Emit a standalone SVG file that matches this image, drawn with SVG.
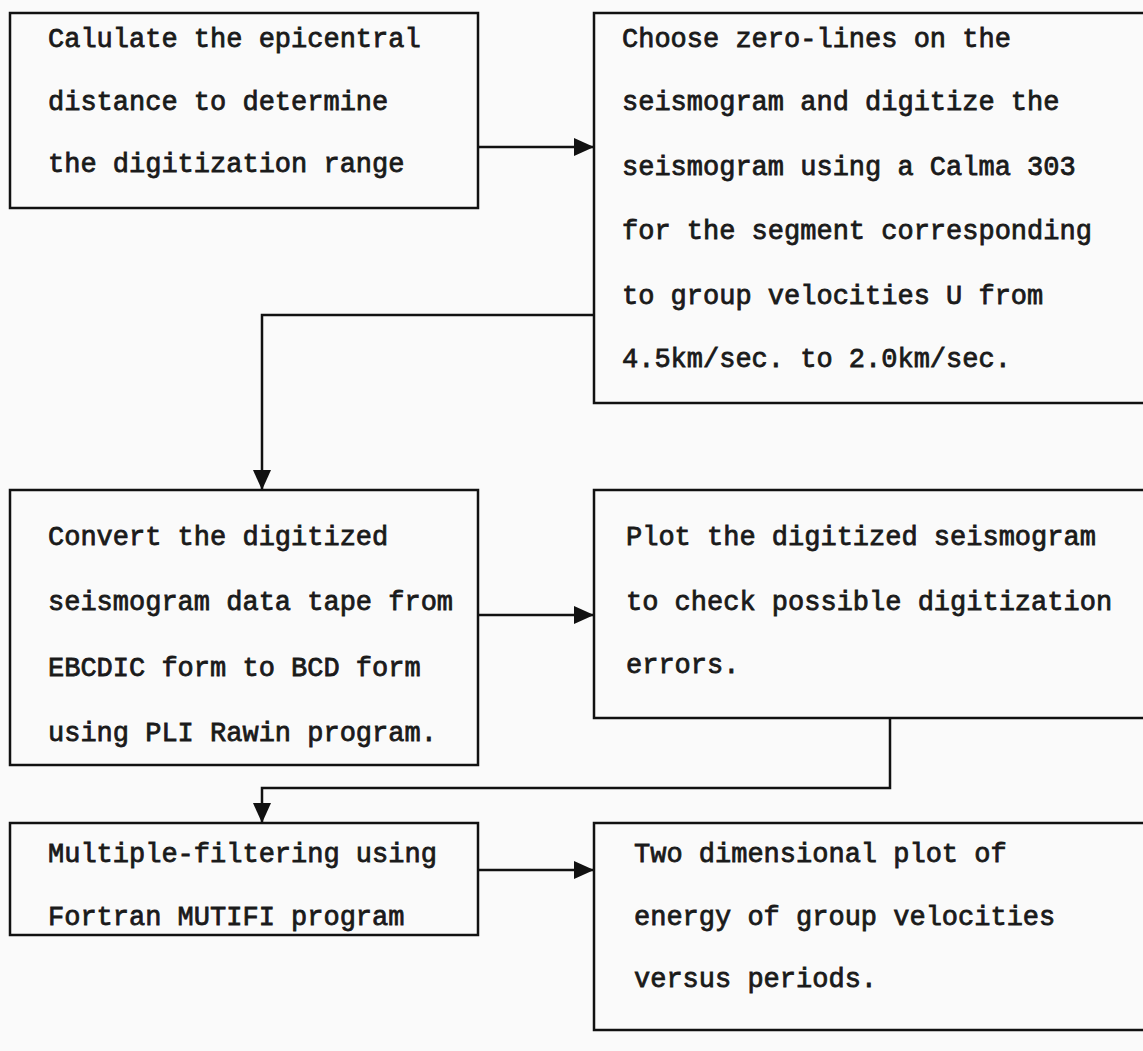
<svg xmlns="http://www.w3.org/2000/svg" width="1143" height="1051" viewBox="0 0 1143 1051">
<defs>
<style>
.box{fill:none;stroke:#111;stroke-width:2.5}
.t{font-family:"Liberation Mono","Courier New",monospace;font-size:27px;fill:#1a1a1a;stroke:#1a1a1a;stroke-width:0.8}
.c{fill:none;stroke:#111;stroke-width:2.5}
</style>
<marker id="a" viewBox="0 0 20 18" refX="20" refY="9" markerWidth="20" markerHeight="18" markerUnits="userSpaceOnUse" orient="auto">
<path d="M0,0 L20,9 L0,18 z" fill="#111"/>
</marker>
</defs>
<rect width="1143" height="1051" fill="#fafafa"/>
<g id="connectors">
<line class="c" x1="478" y1="147" x2="594" y2="147" marker-end="url(#a)"/>
<polyline class="c" points="594,315 262,315 262,490" marker-end="url(#a)"/>
<line class="c" x1="478" y1="615" x2="594" y2="615" marker-end="url(#a)"/>
<polyline class="c" points="890,718 890,788 262,788 262,823" marker-end="url(#a)"/>
<line class="c" x1="478" y1="870" x2="594" y2="870" marker-end="url(#a)"/>
</g>
<g id="n1">
<rect class="box" x="10" y="13" width="468" height="195"/>
<text class="t" x="48" y="47">Calulate the epicentral</text>
<text class="t" x="48" y="110">distance to determine</text>
<text class="t" x="48" y="172">the digitization range</text>
</g>
<g id="n2">
<rect class="box" x="594" y="13" width="560" height="390"/>
<text class="t" x="622" y="47">Choose zero-lines on the</text>
<text class="t" x="622" y="110">seismogram and digitize the</text>
<text class="t" x="622" y="175">seismogram using a Calma 303</text>
<text class="t" x="622" y="239">for the segment corresponding</text>
<text class="t" x="622" y="304">to group velocities U from</text>
<text class="t" x="622" y="367">4.5km/sec. to 2.0km/sec.</text>
</g>
<g id="n3">
<rect class="box" x="10" y="490" width="468" height="275"/>
<text class="t" x="48" y="545">Convert the digitized</text>
<text class="t" x="48" y="610">seismogram data tape from</text>
<text class="t" x="48" y="676">EBCDIC form to BCD form</text>
<text class="t" x="48" y="741">using PLI Rawin program.</text>
</g>
<g id="n4">
<rect class="box" x="594" y="490" width="560" height="228"/>
<text class="t" x="626" y="545">Plot the digitized seismogram</text>
<text class="t" x="626" y="610">to check possible digitization</text>
<text class="t" x="626" y="673">errors.</text>
</g>
<g id="n5">
<rect class="box" x="10" y="823" width="468" height="112"/>
<text class="t" x="48" y="862">Multiple-filtering using</text>
<text class="t" x="48" y="925">Fortran MUTIFI program</text>
</g>
<g id="n6">
<rect class="box" x="594" y="823" width="560" height="207"/>
<text class="t" x="634" y="862">Two dimensional plot of</text>
<text class="t" x="634" y="925">energy of group velocities</text>
<text class="t" x="634" y="987">versus periods.</text>
</g>
</svg>
